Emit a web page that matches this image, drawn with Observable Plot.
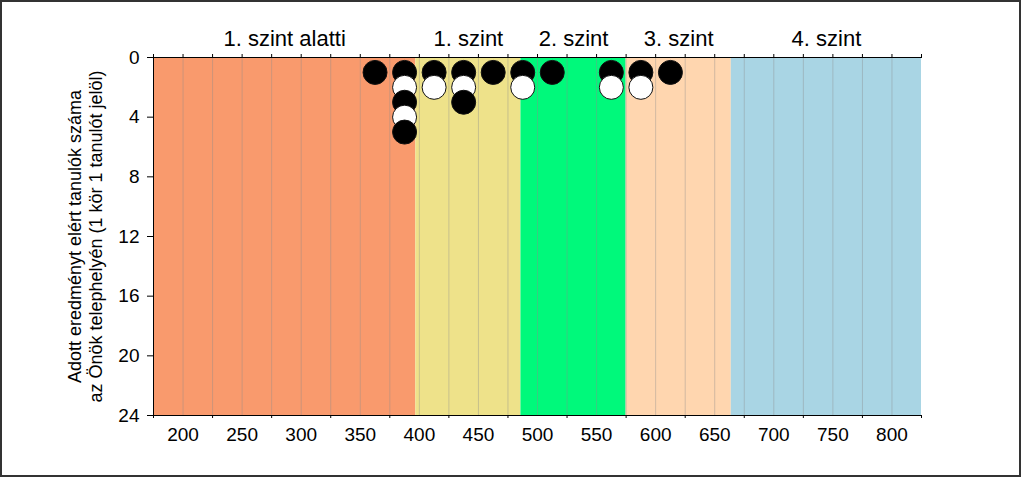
<!DOCTYPE html>
<html><head><meta charset="utf-8">
<script src="https://cdn.jsdelivr.net/npm/d3@7"></script>
<script src="https://cdn.jsdelivr.net/npm/@observablehq/plot@0.6"></script>
<style>
body{margin:0;background:#fff;font-family:"Liberation Sans",Arial,sans-serif;}
#wrap{position:relative;width:1024px;height:478px;}
#border{position:absolute;left:0;top:0;width:1021px;height:477px;border:2px solid #333;box-sizing:border-box;pointer-events:none;z-index:2;}
</style></head><body>
<div id="wrap"><div id="border"></div></div>
<script>
const levelNames = ["1. szint alatti","1. szint","2. szint","3. szint","4. szint"];
const levelStarts = [175,397,486,575,664];
const levelEnds = [397,486,575,664,825];
const levelColors = ["#F99A6D","#EEE28A","#00F97B","#FFD6AF","#A9D5E4"];
const scores = [362.5,387.5,412.5,437.5,462.5,487.5,512.5,562.5,587.5,612.5];
const counts = [1,5,2,3,1,2,1,2,2,1];
const yTicks = [0,4,8,12,16,20,24];
const xLabelTicks = [200,250,300,350,400,450,500,550,600,650,700,750,800];
const xOddTicks = [175,225,275,325,375,425,475,525,575,625,675,725,775,825];
const xAllTicks = [175,200,225,250,275,300,325,350,375,400,425,450,475,500,525,550,575,600,625,650,675,700,725,750,775,800,825];
const gridLines = [200,225,250,275,300,325,350,375,400,425,450,475,500,525,550,575,600,625,650,675,700,725,750,775,800];
const yLabel = "Adott eredményt elért tanulók száma\naz Önök telephelyén (1 kör 1 tanulót jelöl)";

const bands = levelNames.map((n,i)=>({name:n, x1:levelStarts[i], x2:levelEnds[i], color:levelColors[i]}));
const points = [];
scores.forEach((s,i)=>{ for(let k=1;k<=counts[i];k++) points.push({x:s, y:k, fill: k%2===1 ? "#000" : "#fff"}); });

const chart = Plot.plot({
  width: 1024, height: 478,
  marginLeft: 153, marginRight: 103, marginTop: 57, marginBottom: 63,
  style: {fontFamily: '"Liberation Sans", Arial, sans-serif', background: "transparent", color: "#000"},
  x: {domain: [175, 825]},
  y: {domain: [0, 24], reverse: true},
  marks: [
    Plot.rect(bands, {x1: "x1", x2: "x2", fill: "color"}),
    Plot.ruleX(gridLines, {stroke: "#8c8c8c", strokeOpacity: 0.4, strokeWidth: 1}),
    Plot.dot(points, {x: "x", y: "y", r: 12, fill: "fill", stroke: "#111", strokeWidth: 1}),
    Plot.ruleX([175], {stroke: "#000", strokeWidth: 1}),
    Plot.ruleY([0, 24], {stroke: "#000", strokeWidth: 1}),
    Plot.axisY({ticks: yTicks, tickSize: 6, tickPadding: 8, fontSize: 19, label: null}),
    Plot.axisX({anchor: "bottom", ticks: xLabelTicks, tickSize: 0, tickPadding: 12, fontSize: 19, label: null}),
    Plot.axisX({anchor: "bottom", ticks: xOddTicks, tickSize: 3, tickFormat: () => "", label: null}),
    Plot.axisX({anchor: "top", ticks: xAllTicks, tickSize: 4, tickFormat: () => "", label: null}),
    Plot.text(bands, {x: d => (d.x1 + d.x2) / 2, text: "name", frameAnchor: "top", dy: -19, fontSize: 22, lineAnchor: "middle"}),
    Plot.text([yLabel], {text: d => d, frameAnchor: "left", rotate: -90, dx: -69, fontSize: 18, lineHeight: 1.2, textAnchor: "middle", lineAnchor: "middle"})
  ]
});
document.getElementById("wrap").appendChild(chart);
</script>
</body></html>
